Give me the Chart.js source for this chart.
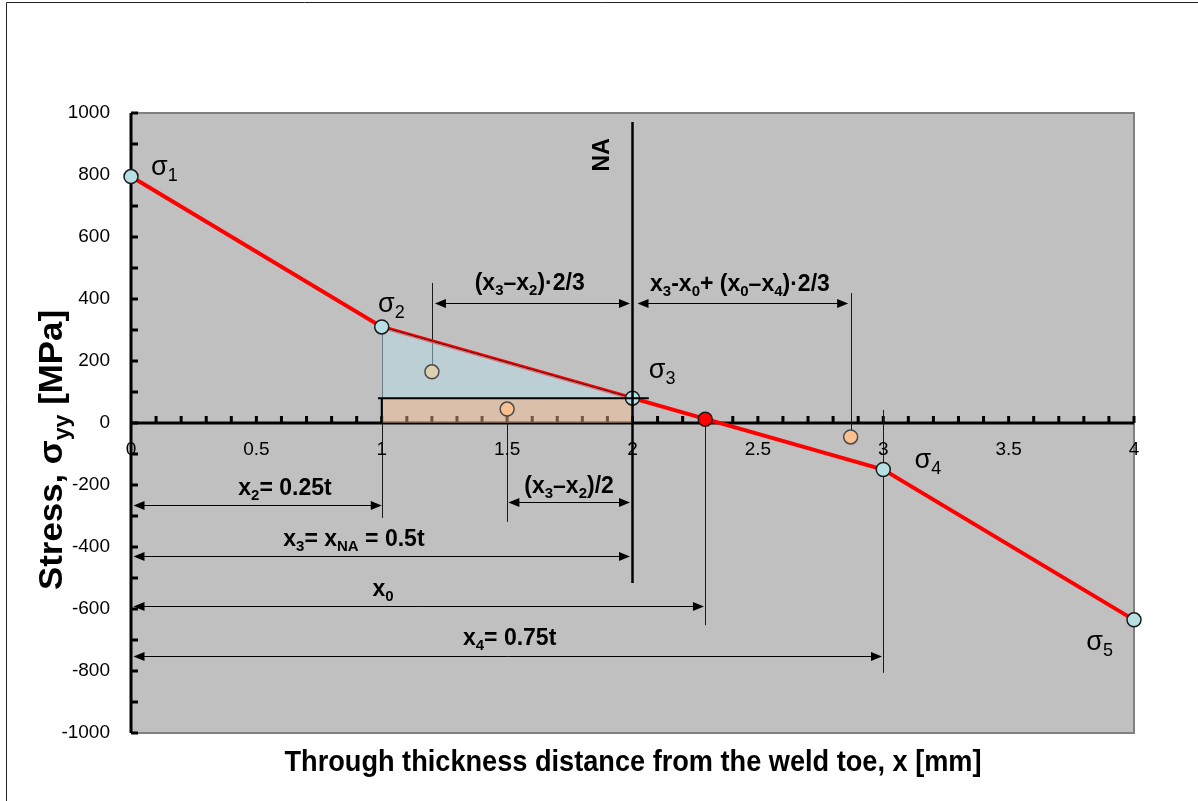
<!DOCTYPE html>
<html><head><meta charset="utf-8">
<script src="https://cdn.jsdelivr.net/npm/chart.js@4/dist/chart.umd.min.js"></script>
<style>html,body{margin:0;padding:0;background:#fff}canvas{display:block}</style>
</head><body>
<canvas id="c" width="1198" height="801"></canvas>
<script>
// ---------- data ----------
const stressX = [0, 1, 2, 3, 4];
const stressY = [795, 310, 80, -150, -635];
const stressNames = ['σ_{1}', 'σ_{2}', 'σ_{3}', 'σ_{4}', 'σ_{5}'];
const stressNameX = [0.08, 0.985, 2.065, 3.125, 3.81];
const stressNameY = [832, 390, 177, -113, -700];

const zeroX = [2.29];
const zeroY = [12];

const centroidX = [1.2, 1.5, 2.87];
const centroidY = [165, 45, -45];

const triangleX = [1, 2];
const triangleY = [310, 80];
const triangleBase = 80;
const rectX = [1, 2];
const rectY = [80, 80];

const xTickValues = [0, 0.5, 1, 1.5, 2, 2.5, 3, 3.5, 4];
const xTickLabels = ['0', '0.5', '1', '1.5', '2', '2.5', '3', '3.5', '4'];
const yTickValues = [1000, 800, 600, 400, 200, 0, -200, -400, -600, -800, -1000];
const yTickLabels = ['1000', '800', '600', '400', '200', '0', '-200', '-400', '-600', '-800', '-1000'];

const naX = 2;
const naTop = 971;
const naBottom = -516;
const naLabel = 'NA';

// vertical guide lines (x, top, bottom)
const guideX = [1, 1.2, 1.5, 2.29, 2.87, 3];
const guideTop = [310, 452, 45, 12, 419, 42];
const guideBottom = [-306, 165, -319, -652, -45, -806];

// double-headed dimension arrows (from, to, at y)
const arrowFrom = [1.212, 2.02, 0.01, 1.505, 0.01, 0.01, 0.01];
const arrowTo = [1.99, 2.86, 1.0, 1.99, 1.99, 2.285, 2.995];
const arrowY = [387, 387, -265, -255, -429, -590, -752];

// dimension texts
const dimTexts = ['(x_{3}–x_{2})·2/3', 'x_{3}-x_{0}+ (x_{0}–x_{4})·2/3', 'x_{2}= 0.25t', '(x_{3}–x_{2})/2', 'x_{3}= x_{NA} = 0.5t', 'x_{0}', 'x_{4}= 0.75t'];
const dimTextX = [1.59, 2.07, 0.614, 1.747, 0.889, 1.005, 1.51];
const dimTextY = [455, 452, -206, -200, -371, -532, -690];
const dimTextAlign = ['center', 'left', 'center', 'center', 'center', 'center', 'center'];

const xTitle = 'Through thickness distance from the weld toe, x [mm]';
const yTitle = 'Stress, σ_{yy} [MPa]';

// ---------- helpers ----------
const FAMILY = '"Liberation Sans", Arial, sans-serif';
function parseRich(str) {
  const out = [];
  const re = /_\{([^}]*)\}/g;
  let last = 0, m;
  while ((m = re.exec(str)) !== null) {
    if (m.index > last) out.push({ t: str.slice(last, m.index), sub: false });
    out.push({ t: m[1], sub: true });
    last = re.lastIndex;
  }
  if (last < str.length) out.push({ t: str.slice(last), sub: false });
  return out;
}
function richWidth(ctx, str, size, weight) {
  let w = 0;
  for (const s of parseRich(str)) {
    ctx.font = weight + ' ' + (s.sub ? Math.round(size * 0.66) : size) + 'px ' + FAMILY;
    w += ctx.measureText(s.t).width;
  }
  return w;
}
function drawRich(ctx, str, x, yMid, size, weight, align) {
  const w = richWidth(ctx, str, size, weight);
  let cx = align === 'center' ? x - w / 2 : (align === 'right' ? x - w : x);
  const base = yMid + size * 0.36;
  ctx.textBaseline = 'alphabetic';
  ctx.textAlign = 'left';
  for (const s of parseRich(str)) {
    const sz = s.sub ? Math.round(size * 0.66) : size;
    ctx.font = weight + ' ' + sz + 'px ' + FAMILY;
    ctx.fillText(s.t, cx, s.sub ? base + size * 0.22 : base);
    cx += ctx.measureText(s.t).width;
  }
}
function arrowHead(ctx, x, y, dir) {
  const L = 11, H = 4.5;
  ctx.beginPath();
  ctx.moveTo(x, y);
  ctx.lineTo(x - dir * L, y - H);
  ctx.lineTo(x - dir * L, y + H);
  ctx.closePath();
  ctx.fill();
}

const deco = {
  id: 'deco',
  beforeDraw(chart) {
    const { ctx, chartArea: a } = chart;
    ctx.save();
    ctx.fillStyle = '#ffffff';
    ctx.fillRect(0, 0, chart.width, chart.height);
    ctx.strokeStyle = '#222';
    ctx.lineWidth = 1;
    ctx.beginPath();
    ctx.moveTo(6.5, chart.height);
    ctx.lineTo(6.5, 2.5);
    ctx.lineTo(chart.width, 2.5);
    ctx.stroke();
    ctx.fillStyle = '#C0C0C0';
    ctx.fillRect(a.left, a.top, a.right - a.left, a.bottom - a.top);
    ctx.restore();
  },
  beforeDatasetsDraw(chart) {
    const { ctx, chartArea: a } = chart;
    const xs = chart.scales.x, ys = chart.scales.y;
    ctx.save();
    ctx.strokeStyle = '#808080';
    ctx.lineWidth = 2;
    ctx.beginPath();
    ctx.moveTo(a.left, a.top);
    ctx.lineTo(a.right, a.top);
    ctx.lineTo(a.right, a.bottom);
    ctx.lineTo(a.left, a.bottom);
    ctx.stroke();
    const y0 = ys.getPixelForValue(0);
    const x0 = xs.getPixelForValue(0);
    ctx.strokeStyle = '#000';
    ctx.lineWidth = 3;
    ctx.beginPath();
    for (let i = 1; i <= 40; i++) {
      const px = xs.getPixelForValue(i / 10);
      ctx.moveTo(px, y0);
      ctx.lineTo(px, y0 - 7);
    }
    for (let v = -1000; v <= 1000; v += 100) {
      const py = ys.getPixelForValue(v);
      ctx.moveTo(x0, py);
      ctx.lineTo(x0 + 7, py);
    }
    ctx.stroke();
    ctx.lineWidth = 3;
    ctx.beginPath();
    ctx.moveTo(a.left, y0);
    ctx.lineTo(a.right, y0);
    ctx.moveTo(x0, a.top);
    ctx.lineTo(x0, a.bottom);
    ctx.stroke();
    ctx.strokeStyle = '#1a1a1a';
    ctx.lineWidth = 1;
    ctx.beginPath();
    guideX.forEach((gx, i) => {
      const px = Math.round(xs.getPixelForValue(gx)) + 0.5;
      ctx.moveTo(px, ys.getPixelForValue(guideTop[i]));
      ctx.lineTo(px, ys.getPixelForValue(guideBottom[i]));
    });
    ctx.stroke();
    ctx.fillStyle = '#000';
    ctx.strokeStyle = '#000';
    arrowFrom.forEach((f, i) => {
      const p1 = xs.getPixelForValue(f), p2 = xs.getPixelForValue(arrowTo[i]);
      const py = Math.round(ys.getPixelForValue(arrowY[i])) + 0.5;
      ctx.beginPath();
      ctx.moveTo(p1 + 4, py);
      ctx.lineTo(p2 - 4, py);
      ctx.stroke();
      arrowHead(ctx, p1, py, -1);
      arrowHead(ctx, p2, py, 1);
    });
    ctx.restore();
  },
  afterDatasetsDraw(chart) {
    const { ctx, chartArea: a } = chart;
    const xs = chart.scales.x, ys = chart.scales.y;
    ctx.save();
    ctx.strokeStyle = '#000';
    ctx.lineWidth = 2.5;
    ctx.beginPath();
    const nx = xs.getPixelForValue(naX);
    ctx.moveTo(nx, ys.getPixelForValue(naTop));
    ctx.lineTo(nx, ys.getPixelForValue(naBottom));
    ctx.stroke();
    ctx.lineWidth = 2;
    ctx.beginPath();
    const ry = ys.getPixelForValue(rectY[0]);
    ctx.moveTo(xs.getPixelForValue(rectX[0] - 0.015), ry);
    ctx.lineTo(xs.getPixelForValue(rectX[1] + 0.065), ry);
    ctx.moveTo(xs.getPixelForValue(rectX[0]), ry);
    ctx.lineTo(xs.getPixelForValue(rectX[0]), ys.getPixelForValue(0));
    ctx.stroke();
    ctx.fillStyle = '#000';
    ctx.font = '19px ' + FAMILY;
    ctx.textBaseline = 'middle';
    ctx.textAlign = 'center';
    xTickValues.forEach((v, i) => {
      ctx.fillText(xTickLabels[i], xs.getPixelForValue(v), ys.getPixelForValue(0) + 27);
    });
    ctx.textAlign = 'right';
    yTickValues.forEach((v, i) => {
      ctx.fillText(yTickLabels[i], a.left - 21, ys.getPixelForValue(v));
    });
    stressNames.forEach((s, i) => {
      drawRich(ctx, s, xs.getPixelForValue(stressNameX[i]), ys.getPixelForValue(stressNameY[i]), 27, 'normal', 'left');
    });
    dimTexts.forEach((s, i) => {
      drawRich(ctx, s, xs.getPixelForValue(dimTextX[i]), ys.getPixelForValue(dimTextY[i]), 23, 'bold', dimTextAlign[i]);
    });
    ctx.save();
    ctx.translate(xs.getPixelForValue(1.874), ys.getPixelForValue(865));
    ctx.rotate(-Math.PI / 2);
    drawRich(ctx, naLabel, 0, 0, 23, 'bold', 'center');
    ctx.restore();
    ctx.save();
    const tw = richWidth(ctx, xTitle, 30, 'bold');
    ctx.translate(633, 760);
    ctx.scale(697 / tw, 1);
    drawRich(ctx, xTitle, 0, 0, 30, 'bold', 'center');
    ctx.restore();
    ctx.save();
    ctx.translate(50, 450);
    ctx.rotate(-Math.PI / 2);
    const yw = richWidth(ctx, yTitle, 33, 'bold');
    ctx.scale(280 / yw, 1);
    drawRich(ctx, yTitle, 0, 0, 33, 'bold', 'center');
    ctx.restore();
    ctx.restore();
  }
};

const pts = (xa, ya) => xa.map((x, i) => ({ x, y: ya[i] }));

new Chart(document.getElementById('c'), {
  type: 'scatter',
  data: {
    datasets: [
      { label: 'rect', data: pts(rectX, rectY), showLine: true, fill: 'origin',
        backgroundColor: 'rgba(250,192,144,0.45)', borderWidth: 0, pointRadius: 0, order: 6, clip: false },
      { label: 'stress line', data: pts(stressX, stressY), showLine: true, borderColor: '#FF0000',
        borderWidth: 4, pointRadius: 0, fill: false, order: 5, clip: false },
      { label: 'triangle', data: pts(triangleX, triangleY), showLine: true, fill: { value: triangleBase },
        backgroundColor: 'rgba(183,222,232,0.5)', borderColor: 'rgba(0,0,0,0.7)', borderWidth: 1,
        pointRadius: 0, order: 4, clip: false },
      { label: 'centroids', data: pts(centroidX, centroidY), showLine: false,
        pointRadius: 7, pointBackgroundColor: ['#DCCFB2', '#FAC090', '#FAC090'],
        pointBorderColor: '#4a4a4a', pointBorderWidth: 1.5, order: 2, clip: false },
      { label: 'stress points', data: pts(stressX, stressY), showLine: false,
        pointRadius: 7, pointBackgroundColor: '#B7E0E4', pointBorderColor: '#1a1a1a',
        pointBorderWidth: 1.5, order: 1, clip: false },
      { label: 'zero crossing', data: pts(zeroX, zeroY), showLine: false,
        pointRadius: 7, pointBackgroundColor: '#FF0000', pointBorderColor: '#1a1a1a',
        pointBorderWidth: 1.5, order: 0, clip: false }
    ]
  },
  options: {
    responsive: false,
    animation: false,
    devicePixelRatio: 1,
    layout: { padding: { left: 131, right: 64, top: 113, bottom: 68 } },
    scales: {
      x: { type: 'linear', min: 0, max: 4, display: false },
      y: { type: 'linear', min: -1000, max: 1000, display: false }
    },
    plugins: { legend: { display: false }, tooltip: { enabled: false } },
    events: []
  },
  plugins: [deco]
});
</script>
</body></html>
